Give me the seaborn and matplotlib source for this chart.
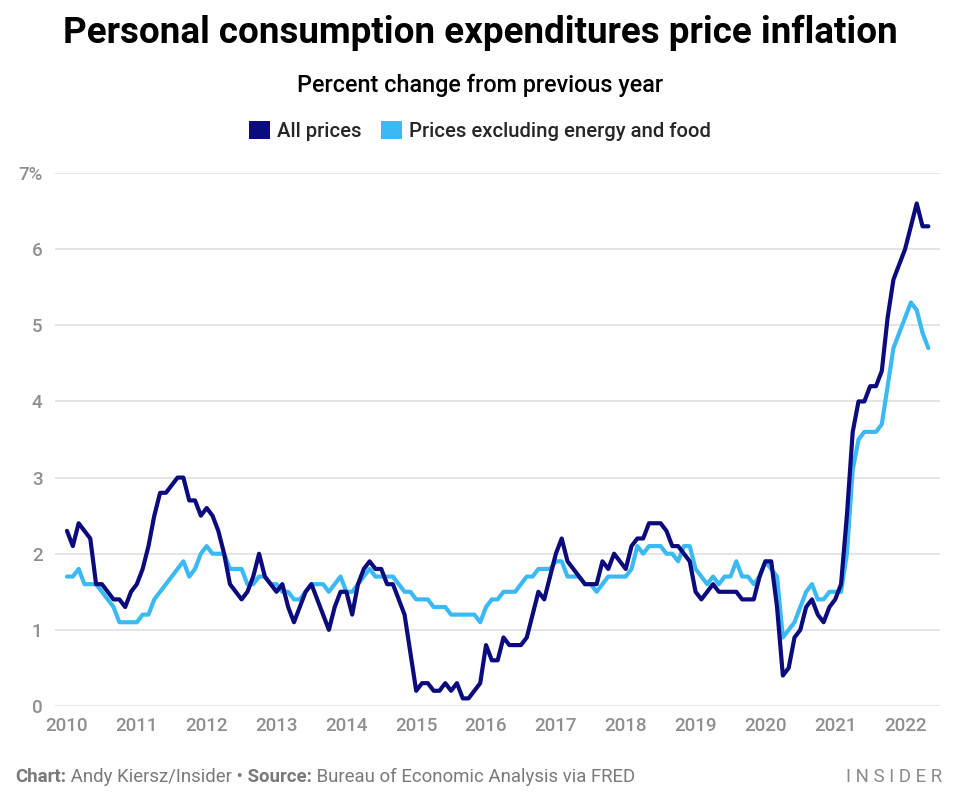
import numpy as np
import pandas as pd
import matplotlib
matplotlib.use("Agg")
import matplotlib.pyplot as plt
import seaborn as sns
from matplotlib.patches import Patch

# monthly year-over-year % change, Jan 2010 - May 2022
all_prices = [
    2.3, 2.1, 2.4, 2.3, 2.2, 1.6, 1.6, 1.5, 1.4, 1.4, 1.3, 1.5,   # 2010
    1.6, 1.8, 2.1, 2.5, 2.8, 2.8, 2.9, 3.0, 3.0, 2.7, 2.7, 2.5,   # 2011
    2.6, 2.5, 2.3, 2.0, 1.6, 1.5, 1.4, 1.5, 1.7, 2.0, 1.7, 1.6,   # 2012
    1.5, 1.6, 1.3, 1.1, 1.3, 1.5, 1.6, 1.4, 1.2, 1.0, 1.3, 1.5,   # 2013
    1.5, 1.2, 1.6, 1.8, 1.9, 1.8, 1.8, 1.6, 1.6, 1.4, 1.2, 0.7,   # 2014
    0.2, 0.3, 0.3, 0.2, 0.2, 0.3, 0.2, 0.3, 0.1, 0.1, 0.2, 0.3,   # 2015
    0.8, 0.6, 0.6, 0.9, 0.8, 0.8, 0.8, 0.9, 1.2, 1.5, 1.4, 1.7,   # 2016
    2.0, 2.2, 1.9, 1.8, 1.7, 1.6, 1.6, 1.6, 1.9, 1.8, 2.0, 1.9,   # 2017
    1.8, 2.1, 2.2, 2.2, 2.4, 2.4, 2.4, 2.3, 2.1, 2.1, 2.0, 1.9,   # 2018
    1.5, 1.4, 1.5, 1.6, 1.5, 1.5, 1.5, 1.5, 1.4, 1.4, 1.4, 1.7,   # 2019
    1.9, 1.9, 1.3, 0.4, 0.5, 0.9, 1.0, 1.3, 1.4, 1.2, 1.1, 1.3,   # 2020
    1.4, 1.6, 2.5, 3.6, 4.0, 4.0, 4.2, 4.2, 4.4, 5.1, 5.6, 5.8,   # 2021
    6.0, 6.3, 6.6, 6.3, 6.3,                                       # 2022
]
core_prices = [
    1.7, 1.7, 1.8, 1.6, 1.6, 1.6, 1.5, 1.4, 1.3, 1.1, 1.1, 1.1,   # 2010
    1.1, 1.2, 1.2, 1.4, 1.5, 1.6, 1.7, 1.8, 1.9, 1.7, 1.8, 2.0,   # 2011
    2.1, 2.0, 2.0, 2.0, 1.8, 1.8, 1.8, 1.6, 1.6, 1.7, 1.7, 1.6,   # 2012
    1.6, 1.5, 1.5, 1.4, 1.4, 1.5, 1.6, 1.6, 1.6, 1.5, 1.6, 1.7,   # 2013
    1.5, 1.5, 1.6, 1.7, 1.8, 1.7, 1.7, 1.7, 1.7, 1.6, 1.5, 1.5,   # 2014
    1.4, 1.4, 1.4, 1.3, 1.3, 1.3, 1.2, 1.2, 1.2, 1.2, 1.2, 1.1,   # 2015
    1.3, 1.4, 1.4, 1.5, 1.5, 1.5, 1.6, 1.7, 1.7, 1.8, 1.8, 1.8,   # 2016
    1.9, 1.9, 1.7, 1.7, 1.7, 1.6, 1.6, 1.5, 1.6, 1.7, 1.7, 1.7,   # 2017
    1.7, 1.8, 2.1, 2.0, 2.1, 2.1, 2.1, 2.0, 2.0, 1.9, 2.1, 2.1,   # 2018
    1.8, 1.7, 1.6, 1.7, 1.6, 1.7, 1.7, 1.9, 1.7, 1.7, 1.6, 1.7,   # 2019
    1.9, 1.8, 1.7, 0.9, 1.0, 1.1, 1.3, 1.5, 1.6, 1.4, 1.4, 1.5,   # 2020
    1.5, 1.5, 2.0, 3.1, 3.5, 3.6, 3.6, 3.6, 3.7, 4.2, 4.7, 4.9,   # 2021
    5.1, 5.3, 5.2, 4.9, 4.7,                                       # 2022
]
series_names = ["All prices", "Prices excluding energy and food"]
series_colors = ["#0b0b7d", "#3bb9f4"]
year_ticks = list(range(2010, 2023))
y_ticks = [0, 1, 2, 3, 4, 5, 6, 7]
y_labels = ["0", "1", "2", "3", "4", "5", "6", "7%"]

months = np.arange(len(all_prices))
t = 2010 + months / 12
df = pd.DataFrame({
    "t": np.concatenate([t, t]),
    "value": all_prices + core_prices,
    "series": [series_names[0]] * len(t) + [series_names[1]] * len(t),
})

sns.set_theme(style="white")
plt.rcParams["font.family"] = ["Roboto", "DejaVu Sans"]

fig = plt.figure(figsize=(9.6, 8.05), dpi=100)
ax = fig.add_axes([55 / 960, 1 - 706 / 805, 885 / 960, 533 / 805])

# core first so the headline line sits on top
sns.lineplot(data=df, x="t", y="value", hue="series", hue_order=series_names[::-1],
             palette=dict(zip(series_names, series_colors)), linewidth=3.0,
             legend=False, ax=ax)

ax.set_xlim(2010 - 2.06 / 12, 2010 + 150 / 12)
ax.set_ylim(0, 7)
ax.set_yticks(y_ticks)
ax.set_yticklabels(y_labels)
ax.set_xticks(year_ticks)
ax.set_xticklabels([str(y) for y in year_ticks])
ax.grid(axis="y", color="#e3e3e3", linewidth=1.3)
ax.set_axisbelow(True)
for s in ax.spines.values():
    s.set_visible(False)
ax.set_xlabel("")
ax.set_ylabel("")
ax.tick_params(axis="both", length=0, colors="#8f8f8f", labelsize=13.5)
ax.tick_params(axis="y", pad=9)
ax.tick_params(axis="x", pad=8)
for lab in ax.get_xticklabels() + ax.get_yticklabels():
    lab.set_fontweight("medium")

fig.text(0.5, 1 - 33 / 805, "Personal consumption expenditures price inflation",
         ha="center", va="center", fontsize=26.5, fontweight="bold", color="black")
fig.text(0.5, 1 - 85 / 805, "Percent change from previous year",
         ha="center", va="center", fontsize=16.8, fontweight="medium", color="black")

handles = [Patch(facecolor=c, edgecolor="none") for c in series_colors]
fig.legend(handles, series_names, loc="center", bbox_to_anchor=(0.5, 1 - 131 / 805),
           ncol=2, frameon=False, handlelength=1.0, handleheight=1.0,
           handletextpad=0.35, columnspacing=1.0, prop={"weight": "medium", "size": 14.6})

# footer with mixed weights
renderer = fig.canvas.get_renderer()
x = 15 / 960
y = 1 - 777 / 805
parts = [("Chart:", "bold"), (" Andy Kiersz/Insider", "normal"), (" \u2022", "normal"),
         (" Source:", "bold"), (" Bureau of Economic Analysis via FRED", "normal")]
for s, w in parts:
    txt = fig.text(x, y, s, ha="left", va="center", fontsize=13.4, fontweight=w, color="#7a7a7a")
    x += txt.get_window_extent(renderer).width / fig.bbox.width
fig.text(942 / 960, y, "I N S I D E R", ha="right", va="center", fontsize=13.4,
         color="#8a8a8a")

fig.savefig("out.png", dpi=100, facecolor="white")
